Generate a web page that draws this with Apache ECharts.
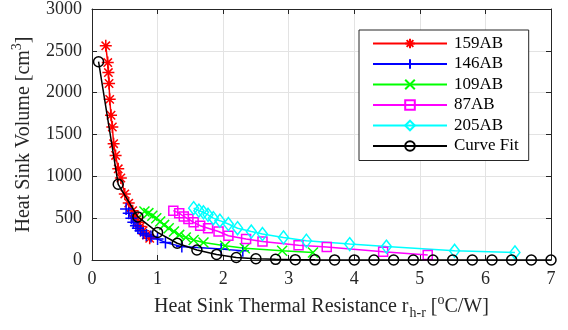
<!DOCTYPE html>
<html>
<head>
<meta charset="utf-8">
<script src="https://cdn.jsdelivr.net/npm/echarts@6/dist/echarts.min.js"></script>
<style>
html,body{margin:0;padding:0;background:#fff;}
#c{width:568px;height:330px;}
</style>
</head>
<body>
<div id="c"></div>
<script>
// ---- data ----
var names = ['159AB', '146AB', '109AB', '87AB', '205AB', 'Curve Fit'];

var x159 = [0.21, 0.24, 0.25, 0.26, 0.27, 0.29, 0.31, 0.33, 0.36, 0.40, 0.44, 0.50, 0.56, 0.62, 0.66, 0.70, 0.74, 0.78, 0.83, 0.88];
var y159 = [2560, 2360, 2240, 2110, 1920, 1730, 1590, 1390, 1250, 1090, 980, 790, 680, 590, 520, 450, 400, 350, 300, 260];

var x146 = [0.52, 0.56, 0.60, 0.63, 0.67, 0.70, 0.74, 0.78, 0.83, 0.90, 1.00, 1.12, 1.37, 1.97, 2.30];
var y146 = [610, 560, 500, 450, 410, 380, 350, 320, 300, 280, 250, 210, 160, 130, 110];

var x109 = [0.80, 0.86, 0.92, 0.98, 1.04, 1.10, 1.17, 1.25, 1.33, 1.43, 1.55, 1.70, 2.03, 2.33, 2.90, 3.37];
var y109 = [580, 560, 530, 500, 460, 420, 380, 340, 300, 270, 240, 210, 170, 140, 110, 90];

var x87 = [1.24, 1.33, 1.40, 1.47, 1.55, 1.65, 1.77, 1.93, 2.08, 2.35, 2.60, 3.15, 3.58, 4.44, 5.12];
var y87 = [590, 560, 520, 490, 450, 410, 380, 340, 290, 250, 220, 175, 155, 100, 60];

var x205 = [1.55, 1.63, 1.70, 1.77, 1.85, 1.95, 2.08, 2.22, 2.43, 2.60, 2.92, 3.27, 3.93, 4.49, 5.53, 6.45];
var y205 = [620, 590, 570, 540, 500, 470, 430, 380, 340, 310, 270, 230, 190, 160, 110, 90];

var xFit = [0.1, 0.4, 0.7, 1.0, 1.3, 1.6, 1.9, 2.2, 2.5, 2.8, 3.1, 3.4, 3.7, 4.0, 4.3, 4.6, 4.9, 5.2, 5.5, 5.8, 6.1, 6.4, 6.7, 7.0];
var yFit = [2370, 905, 515, 330, 200, 120, 67, 30, 15, 8, 4, 2, 1, 1, 0, 0, 0, 0, 0, 0, 0, 0, 0, 0];

var xTicks = [0, 1, 2, 3, 4, 5, 6, 7];
var yTicks = [0, 500, 1000, 1500, 2000, 2500, 3000];

// ---- chart ----
function zip(xs, ys) { return xs.map(function (x, i) { return [x, ys[i]]; }); }

var font = 'Liberation Serif, Times New Roman, serif';
var txt = '#262626';
var markers = [
  'path://M0,-1L0,1M-1,0L1,0M-0.7,-0.7L0.7,0.7M-0.7,0.7L0.7,-0.7',
  'path://M0,-1L0,1M-1,0L1,0',
  'path://M-1,-1L1,1M-1,1L1,-1',
  'path://M-1,-1L1,-1L1,1L-1,1Z',
  'path://M0,-1.3L1,0L0,1.3L-1,0Z',
  'path://M1,0A1,1,0,1,1,-1,0A1,1,0,1,1,1,0Z'
];
var sizes = [12, 12, 10, 9, [10, 13], 10];
var colors = ['#ff0000', '#0000ff', '#00ff00', '#ff00ff', '#00ffff', '#000000'];
var datas = [zip(x159, y159), zip(x146, y146), zip(x109, y109), zip(x87, y87), zip(x205, y205), zip(xFit, yFit)];

var series = names.map(function (n, i) {
  return {
    name: n, type: 'line', data: datas[i],
    xAxisIndex: 0, yAxisIndex: 0,
    symbol: markers[i], symbolSize: sizes[i],
    showAllSymbol: true,
    lineStyle: { color: colors[i], width: 1.5 },
    itemStyle: { color: 'none', borderColor: colors[i], borderWidth: 1.5 },
    emphasis: { disabled: true },
    animation: false, z: i === 5 ? 3 : 2
  };
});

var tickStyle = { show: true, inside: true, length: 5, lineStyle: { color: txt, width: 1 } };
var lineSt = { show: true, onZero: false, lineStyle: { color: txt, width: 1 } };
var grid = { left: 92, right: 17, top: 8, bottom: 70 };

var option = {
  backgroundColor: '#fff',
  animation: false,
  grid: grid,
  legend: {
    data: names,
    orient: 'vertical',
    left: 359, top: 30,
    width: 172,
    padding: [5, 10, 6, 13],
    itemGap: 3.5,
    itemWidth: 74, itemHeight: 12,
    borderColor: txt, borderWidth: 1,
    backgroundColor: '#fff',
    textStyle: { fontFamily: font, fontSize: 17, color: '#000', lineHeight: 17, padding: [0, 0, 0, 2] }
  },
  xAxis: [{
    type: 'value', min: 0, max: 7, interval: 1, position: 'bottom',
    axisLine: lineSt, axisTick: tickStyle,
    splitLine: { show: true, lineStyle: { color: '#e3e3e3', width: 1 } },
    axisLabel: { fontFamily: font, fontSize: 18, color: txt, margin: 10,
      formatter: function (v) { return xTicks.indexOf(v) >= 0 ? String(v) : ''; } },
    name: '{a|Heat Sink Thermal Resistance r}{sub|h-r}{a| [}{sup|o}{a|C/W]}',
    nameLocation: 'middle', nameGap: 33,
    nameTextStyle: {
      fontFamily: font, color: txt, fontSize: 20,
      rich: {
        a: { fontFamily: font, fontSize: 20, color: txt, lineHeight: 27, verticalAlign: 'middle' },
        sub: { fontFamily: font, fontSize: 14, color: txt, lineHeight: 27, verticalAlign: 'bottom', padding: [0, 0, 0, 1] },
        sup: { fontFamily: font, fontSize: 14, color: txt, lineHeight: 27, verticalAlign: 'top' }
      }
    }
  }, {
    type: 'value', min: 0, max: 7, interval: 1, position: 'top',
    axisLine: lineSt, axisTick: tickStyle, splitLine: { show: false }, axisLabel: { show: false }
  }],
  yAxis: [{
    type: 'value', min: 0, max: 3000, interval: 500, position: 'left',
    axisLine: lineSt, axisTick: tickStyle,
    splitLine: { show: true, lineStyle: { color: '#e3e3e3', width: 1 } },
    axisLabel: { fontFamily: font, fontSize: 18, color: txt, margin: 10,
      formatter: function (v) { return yTicks.indexOf(v) >= 0 ? String(v) : ''; } },
    name: '{a|Heat Sink Volume [cm}{sup|3}{a|]}',
    nameLocation: 'middle', nameGap: 55, nameRotate: 90,
    nameTextStyle: {
      fontFamily: font, color: txt, fontSize: 20,
      rich: {
        a: { fontFamily: font, fontSize: 20, color: txt, lineHeight: 27, verticalAlign: 'middle' },
        sup: { fontFamily: font, fontSize: 14, color: txt, lineHeight: 27, verticalAlign: 'top' }
      }
    }
  }, {
    type: 'value', min: 0, max: 3000, interval: 500, position: 'right',
    axisLine: lineSt, axisTick: tickStyle, splitLine: { show: false }, axisLabel: { show: false }
  }],
  series: series
};

var chart = echarts.init(document.getElementById('c'), null, { renderer: 'canvas' });
chart.setOption(option);
</script>
</body>
</html>
